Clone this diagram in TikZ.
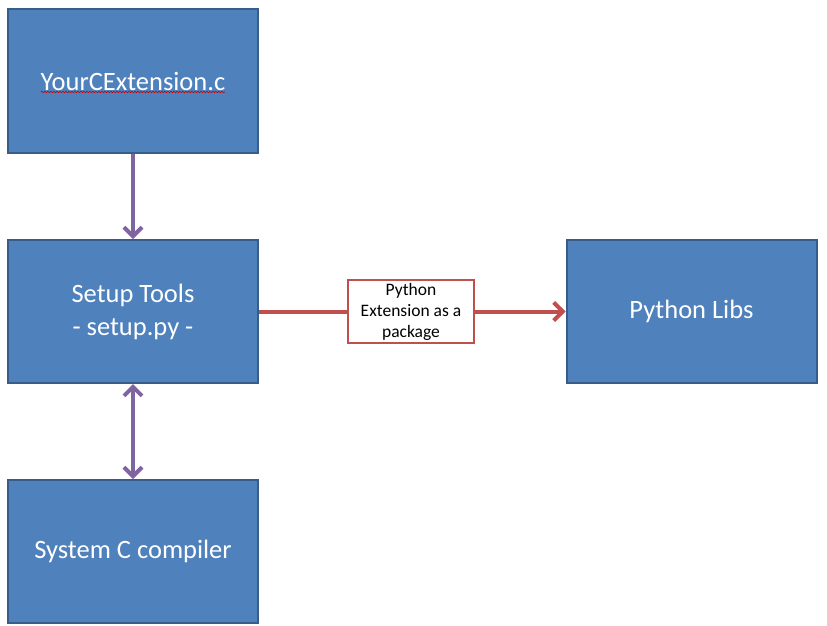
\documentclass[tikz,border=0pt]{standalone}
\usepackage{fontspec}
\setmainfont{Carlito}
\usetikzlibrary{arrows.meta,decorations.pathmorphing}
\definecolor{boxfill}{HTML}{4F81BD}
\definecolor{boxline}{HTML}{385D8A}
\definecolor{purp}{HTML}{8064A2}
\definecolor{redl}{HTML}{C0504D}
\begin{document}
\begin{tikzpicture}[x=1pt,y=-1pt,
  bluebox/.style={draw=boxline, line width=2pt, fill=boxfill, minimum width=250pt, minimum height=143pt, inner sep=0pt, text=white, font=\fontsize{26.5}{31}\selectfont, align=center},
  labelbox/.style={draw=redl, line width=1.5pt, fill=white, minimum width=126pt, minimum height=63pt, inner sep=0pt, align=center, font=\fontsize{17.5}{21}\selectfont},
  purparrow/.style={draw=purp, line width=4pt, -{Straight Barb[length=9pt,width=18pt,line width=4pt]}},
  purpdouble/.style={draw=purp, line width=4pt, {Straight Barb[length=9pt,width=18pt,line width=4pt]}-{Straight Barb[length=9pt,width=18pt,line width=4pt]}},
  redline/.style={draw=redl, line width=4pt}
]
\useasboundingbox (0,0) rectangle (827,626);
\node[bluebox] (ext) at (133,81) {YourCExtension.c};
\node[bluebox] (setup) at (133,311.5) {Setup Tools\\[2pt]- setup.py -};
\node[bluebox] (comp) at (133,551.5) {System C compiler};
\node[bluebox] (libs) at (691.5,311.5) {Python Libs};
\node[labelbox] (lab) at (411,311.5) {Python\\Extension as a\\package};
\draw[decorate, decoration={snake, amplitude=0.8pt, segment length=3pt}, draw=red!80!black, line width=0.6pt] (41,92) -- (225,92);
\draw[purparrow] (ext.south) -- (setup.north);
\draw[purpdouble] (setup.south) -- (comp.north);
\draw[redline] (setup.east) -- (lab.west);
\draw[redline, -{Straight Barb[length=9pt,width=18pt,line width=4pt]}] (lab.east) -- (libs.west);
\end{tikzpicture}
\end{document}
